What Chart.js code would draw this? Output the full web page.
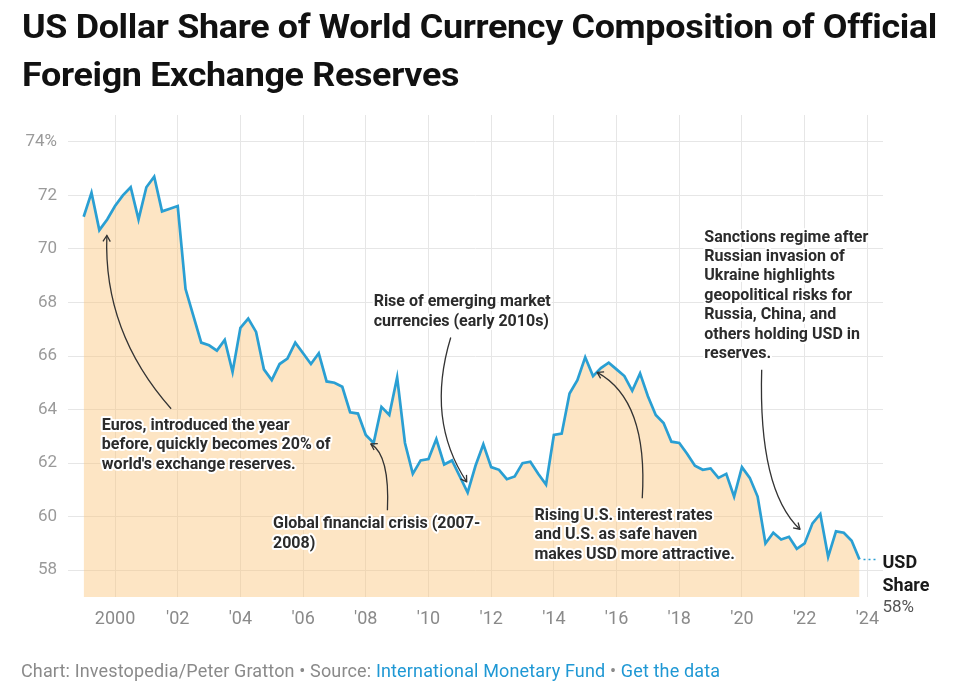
<!DOCTYPE html>
<html>
<head>
<meta charset="utf-8">
<script src="https://cdn.jsdelivr.net/npm/chart.js@4"></script>
<style>
  body { margin: 0; background: #fff; font-family: Roboto, "Liberation Sans", sans-serif; }
  #wrap { position: relative; width: 966px; height: 689px; overflow: hidden; }
  #chartBox { position: absolute; left: 0; top: 0; width: 966px; height: 689px; }
  #title { position: absolute; left: 22px; top: 3px; font-weight: 700; font-size: 33px; line-height: 48px; color: #111; white-space: nowrap; transform-origin: 0 0; letter-spacing: -0.3px; }
  #footer { position: absolute; left: 21px; top: 660px; font-size: 18px; line-height: 21px; letter-spacing: 0.15px; color: #8a8a8a; white-space: nowrap; }
  #footer .lnk { color: #1f98d4; }
</style>
</head>
<body>
<div id="wrap">
  <div id="chartBox"><canvas id="usdChart"></canvas></div>
  <div id="title"><span id="t1">US Dollar Share of World Currency Composition of Official</span><br>Foreign Exchange Reserves</div>
  <div id="footer">Chart: Investopedia/Peter Gratton • Source: <span class="lnk">International Monetary Fund</span> • <span class="lnk">Get the data</span></div>
</div>
<script>
// quarterly USD share of allocated reserves, 1999 Q1 .. 2023 Q4 (%)
const startYear = 1999;
const usdShare = [
  71.2, 72.1, 70.7, 71.1,   // 1999
  71.6, 72.0, 72.3, 71.1,   // 2000
  72.3, 72.7, 71.4, 71.5,   // 2001
  71.6, 68.5, 67.5, 66.5,   // 2002
  66.4, 66.2, 66.6, 65.4,   // 2003
  67.05, 67.4, 66.9, 65.5,  // 2004
  65.1, 65.7, 65.9, 66.5,   // 2005
  66.1, 65.7, 66.1, 65.05,  // 2006
  65.0, 64.85, 63.9, 63.85, // 2007
  63.05, 62.75, 64.1, 63.8, // 2008
  65.2, 62.75, 61.6, 62.1,  // 2009
  62.15, 62.9, 61.95, 62.1, // 2010
  61.5, 60.9, 61.9, 62.7,   // 2011
  61.85, 61.75, 61.4, 61.5, // 2012
  62.0, 62.05, 61.6, 61.2,  // 2013
  63.05, 63.1, 64.6, 65.1,  // 2014
  65.95, 65.25, 65.55, 65.75, // 2015
  65.5, 65.25, 64.7, 65.35, // 2016
  64.5, 63.8, 63.5, 62.8,   // 2017
  62.75, 62.35, 61.9, 61.75, // 2018
  61.8, 61.45, 61.6, 60.75, // 2019
  61.85, 61.45, 60.75, 59.0, // 2020
  59.4, 59.15, 59.25, 58.8, // 2021
  59.0, 59.75, 60.1, 58.5,  // 2022
  59.45, 59.4, 59.1, 58.4   // 2023
];
const xTicks = [2000, 2002, 2004, 2006, 2008, 2010, 2012, 2014, 2016, 2018, 2020, 2022, 2024];
const yTicks = [58, 60, 62, 64, 66, 68, 70, 72, 74];
const endLabel = ["USD", "Share", "58%"];

// notes: text anchor and arrow (start, bend, tip) in chart units (year, %)
const notes = [
  { lines: ["Euros, introduced the year", "before, quickly becomes 20% of", "world's exchange reserves."],
    at: [1999.58, 63.39], from: [2001.79, 64.03], bend: [1999.62, 66.9], to: [1999.74, 70.5] },
  { lines: ["Global financial crisis (2007-", "2008)"],
    at: [2005.04, 59.72], from: [2008.69, 60.24], bend: [2008.77, 62.3], to: [2008.16, 62.72] },
  { lines: ["Rise of emerging market", "currencies (early 2010s)"],
    at: [2008.25, 68.01], from: [2010.71, 66.69], bend: [2009.91, 63.61], to: [2011.22, 61.3] },
  { lines: ["Rising U.S. interest rates", "and U.S. as safe haven", "makes USD more attractive."],
    at: [2013.38, 60.03], from: [2016.82, 60.69], bend: [2017.01, 64.36], to: [2015.38, 65.39] },
  { lines: ["Sanctions regime after", "Russian invasion of", "Ukraine highlights", "geopolitical risks for",
            "Russia, China, and", "others holding USD in", "reserves."],
    at: [2018.8, 70.42], from: [2020.63, 65.49], bend: [2020.52, 61.0], to: [2021.85, 59.53] }
];

const points = usdShare.map((v, i) => ({ x: startYear + i / 4, y: v }));

// squeeze the title so it fits like the condensed original
const t1 = document.getElementById("t1");
const titleEl = document.getElementById("title");
const w = t1.getBoundingClientRect().width;
if (w > 0) titleEl.style.transform = "scaleX(" + (915 / w) + ")";

const notesPlugin = {
  id: "notes",
  afterDatasetsDraw(chart) {
    const ctx = chart.ctx;
    const xs = chart.scales.x, ys = chart.scales.y;
    const px = p => [xs.getPixelForValue(p[0]), ys.getPixelForValue(p[1])];
    ctx.save();

    // dotted leader + end label
    const last = points[points.length - 1];
    const lx = xs.getPixelForValue(last.x), ly = ys.getPixelForValue(last.y);
    ctx.strokeStyle = "#2a9fd3";
    ctx.lineWidth = 1.5;
    ctx.setLineDash([2, 3]);
    ctx.beginPath();
    ctx.moveTo(lx + 4, ly);
    ctx.lineTo(lx + 18, ly);
    ctx.stroke();
    ctx.setLineDash([]);
    ctx.textBaseline = "middle";
    ctx.textAlign = "left";
    ctx.fillStyle = "#1a1a1a";
    ctx.font = "bold 18px Roboto";
    ctx.fillText(endLabel[0], lx + 23, ly + 4);
    ctx.fillText(endLabel[1], lx + 23, ly + 27);
    ctx.fillStyle = "#555";
    ctx.font = "17px Roboto";
    ctx.fillText(endLabel[2], lx + 23, ly + 48);

    notes.forEach(n => {
      const [x0, y0] = px(n.from), [cx, cy] = px(n.bend), [x1, y1] = px(n.to);
      ctx.strokeStyle = "#333";
      ctx.lineWidth = 1.3;
      ctx.beginPath();
      ctx.moveTo(x0, y0);
      ctx.quadraticCurveTo(cx, cy, x1, y1);
      ctx.stroke();
      const a = Math.atan2(y1 - cy, x1 - cx);
      ctx.beginPath();
      ctx.moveTo(x1 - 7 * Math.cos(a - 0.55), y1 - 7 * Math.sin(a - 0.55));
      ctx.lineTo(x1, y1);
      ctx.lineTo(x1 - 7 * Math.cos(a + 0.55), y1 - 7 * Math.sin(a + 0.55));
      ctx.stroke();

      const [tx, ty] = px(n.at);
      ctx.font = "bold 16px Roboto";
      ctx.lineJoin = "round";
      n.lines.forEach((s, k) => {
        ctx.strokeStyle = "#fff";
        ctx.lineWidth = 4;
        ctx.strokeText(s, tx, ty + k * 19.4);
        ctx.fillStyle = "#2b2b2b";
        ctx.fillText(s, tx, ty + k * 19.4);
      });
    });
    ctx.restore();
  }
};

new Chart(document.getElementById("usdChart"), {
  type: "line",
  data: {
    datasets: [{
      data: points,
      borderColor: "#2a9fd3",
      borderWidth: 2.7,
      backgroundColor: "rgba(250, 196, 120, 0.44)",
      fill: "start",
      pointRadius: 0,
      tension: 0
    }]
  },
  options: {
    responsive: true,
    maintainAspectRatio: false,
    animation: false,
    layout: { padding: { top: 115, right: 83, bottom: 52, left: 0 } },
    plugins: { legend: { display: false }, tooltip: { enabled: false } },
    scales: {
      x: {
        type: "linear",
        min: 1998.5,
        max: 2024.5,
        afterBuildTicks: s => { s.ticks = xTicks.map(v => ({ value: v })); },
        afterFit: s => { s.height = 40; },
        grid: { color: "#e6e6e6", lineWidth: 1, drawTicks: false },
        border: { display: false },
        ticks: {
          padding: 12,
          color: "#8a8a8a",
          font: { family: "Roboto", size: 18 },
          callback: v => v === 2000 ? "2000" : "'" + String(v).slice(2)
        }
      },
      y: {
        min: 57,
        max: 75,
        afterBuildTicks: s => { s.ticks = yTicks.map(v => ({ value: v })); },
        afterFit: s => { s.width = 68; },
        grid: { color: "#e6e6e6", lineWidth: 1, drawTicks: false },
        border: { display: false },
        ticks: {
          padding: 11,
          color: "#9a9a9a",
          font: { family: "Roboto", size: 17 },
          callback: v => v === 74 ? "74%" : String(v)
        }
      }
    }
  },
  plugins: [notesPlugin]
});
</script>
</body>
</html>
